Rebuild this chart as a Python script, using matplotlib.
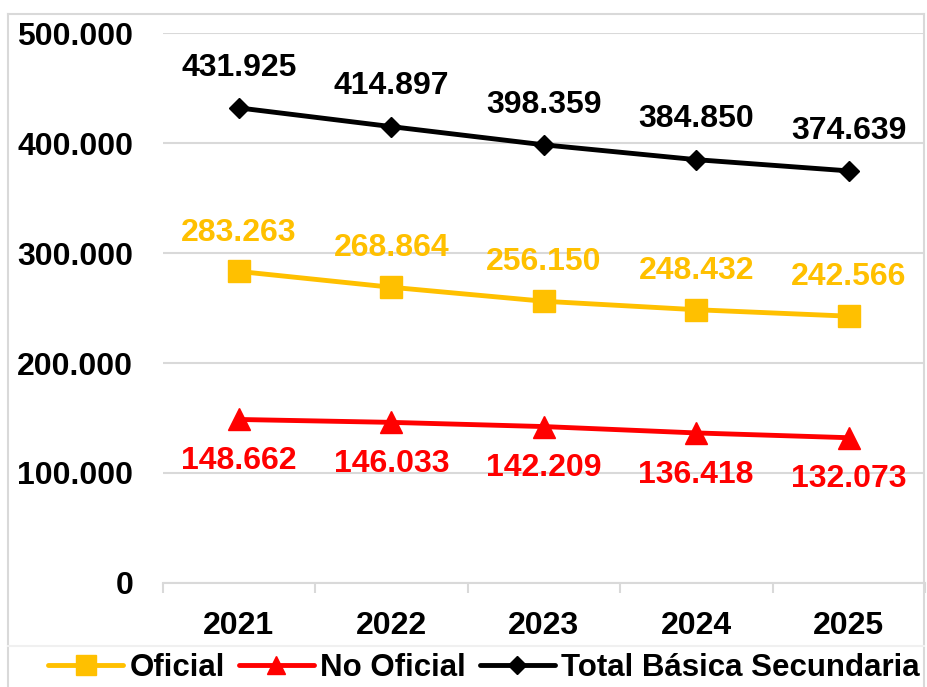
import matplotlib
matplotlib.use("Agg")
import matplotlib.pyplot as plt
from matplotlib.lines import Line2D
from matplotlib.ticker import FuncFormatter, FixedLocator

# data
years = ["2021", "2022", "2023", "2024", "2025"]
oficial = [283263, 268864, 256150, 248432, 242566]
no_oficial = [148662, 146033, 142209, 136418, 132073]
total = [431925, 414897, 398359, 384850, 374639]
y_ticks = [0, 100000, 200000, 300000, 400000, 500000]

plt.rcParams["font.family"] = ["Liberation Sans", "DejaVu Sans"]
plt.rcParams["font.weight"] = "bold"

W, H = 927, 687
fig = plt.figure(figsize=(W / 100, H / 100), dpi=100)
ax = fig.add_axes([162.5 / W, 1 - 583 / H, (925 - 162.5) / W, (583 - 33) / H])

GRID = "#d9d9d9"
YELLOW = "#FFC000"
RED = "#FF0000"
FS = 23


def fmt(v):
    # spanish thousands separator
    return f"{int(v):,}".replace(",", ".")


x = list(range(len(years)))
ax.plot(x, oficial, color=YELLOW, lw=3.5, marker="s", ms=16.5, label="Oficial",
        solid_capstyle="round", zorder=3)
ax.plot(x, no_oficial, color=RED, lw=3.5, marker="^", ms=15.5, label="No Oficial",
        solid_capstyle="round", zorder=3)
ax.plot(x, total, color="black", lw=3.5, marker="D", ms=10.5,
        label="Total Básica Secundaria", solid_capstyle="round", zorder=3)

for i in x:
    ax.annotate(fmt(total[i]), (i, total[i]), xytext=(0, 29), textcoords="offset points",
                ha="center", va="center", fontsize=FS, fontweight="bold", color="black")
    ax.annotate(fmt(oficial[i]), (i, oficial[i]), xytext=(0, 28), textcoords="offset points",
                ha="center", va="center", fontsize=FS, fontweight="bold", color=YELLOW)
    ax.annotate(fmt(no_oficial[i]), (i, no_oficial[i]), xytext=(0, -30), textcoords="offset points",
                ha="center", va="center", fontsize=FS, fontweight="bold", color=RED)

ax.set_xlim(-0.5, len(years) - 0.5)
ax.set_ylim(0, 500000)
ax.set_yticks(y_ticks)
ax.yaxis.set_major_formatter(FuncFormatter(lambda v, p: fmt(v)))
ax.set_xticks(x)
ax.set_xticklabels(years)
ax.xaxis.set_minor_locator(FixedLocator([i - 0.5 for i in range(len(years) + 1)]))

ax.tick_params(axis="y", length=0, pad=21, labelsize=FS)
ax.tick_params(axis="x", which="major", length=0, pad=20, labelsize=FS)
ax.tick_params(axis="x", which="minor", length=7.2, width=1.5, color=GRID, direction="out")
for lab in ax.get_xticklabels() + ax.get_yticklabels():
    lab.set_fontweight("bold")

ax.grid(axis="y", color=GRID, lw=1.5, zorder=0)
ax.set_axisbelow(True)
for s in ["top", "right", "left"]:
    ax.spines[s].set_visible(False)
ax.spines["bottom"].set_color(GRID)
ax.spines["bottom"].set_linewidth(1.5)

fig.legend(loc="center", bbox_to_anchor=(484 / W, 1 - 668 / H), ncol=3, frameon=False,
           handlelength=2.4, handletextpad=0.2, columnspacing=0.45,
           markerscale=0.85, prop={"weight": "bold", "size": 22.5})

# outer chart frame and faint legend separator
frame = [([8, 8], [14, H], GRID), ([8, 924], [14, 14], GRID),
         ([924, 924], [14, H], GRID), ([8, 924], [646, 646], "#f0f0f0")]
for xs, ys, c in frame:
    fig.add_artist(Line2D([v / W for v in xs], [1 - v / H for v in ys],
                          color=c, lw=1.5, transform=fig.transFigure))

fig.savefig("out.png", dpi=100, facecolor="white")
